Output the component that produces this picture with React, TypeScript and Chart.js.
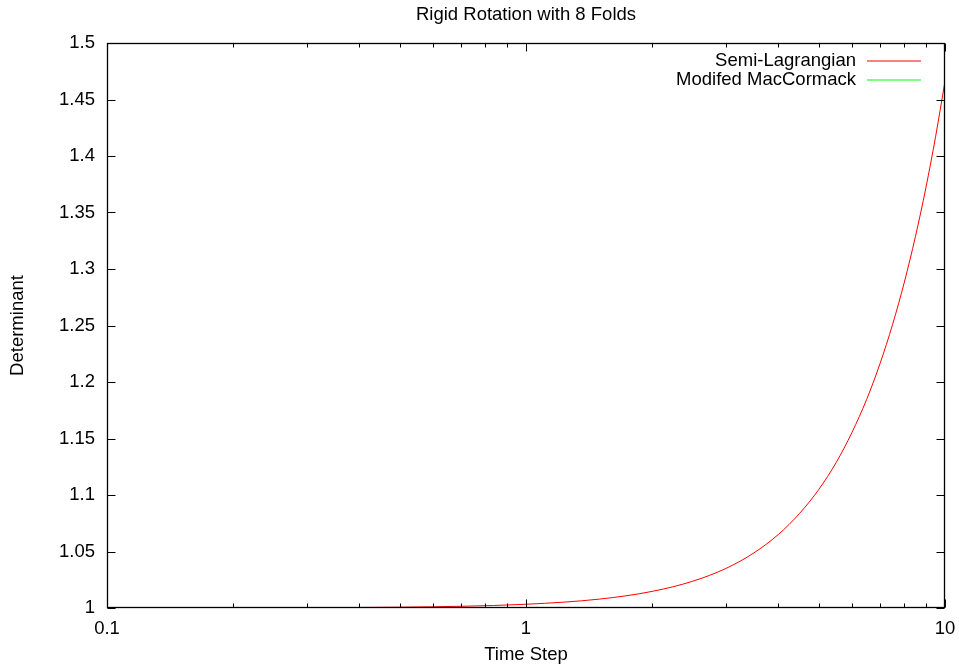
import React, { useEffect, useRef } from "react";
import { Chart, registerables } from "chart.js";

Chart.register(...registerables);

const chartTitle = "Rigid Rotation with 8 Folds";
const xTitle = "Time Step";
const yTitle = "Determinant";
const seriesLabels = ["Semi-Lagrangian", "Modifed MacCormack"];
const seriesColors = ["#ff0000", "#00ff00"];

const timeSteps = [0.1, 0.2, 0.3, 0.5, 0.7, 1, 1.5, 2, 2.5, 3, 3.5, 4, 4.5, 5, 5.5, 6, 6.5, 7, 7.5, 8, 8.5, 9, 9.5, 10];
const semiLagrangian = [
  1.00002, 1.0001, 1.00025, 1.00074, 1.00153, 1.0033, 1.0079, 1.0147, 1.0237, 1.035, 1.0488, 1.065,
  1.0838, 1.105, 1.1288, 1.1555, 1.1845, 1.2165, 1.2511, 1.2885, 1.3287, 1.3716, 1.4175, 1.4662,
];
const modifiedMacCormack = [1, 1, 1, 1, 1, 1, 1, 1, 1, 1, 1, 1, 1, 1, 1, 1, 1, 1, 1, 1, 1, 1, 1, 1];

const xMajorTicks = [0.1, 1, 10];
const xMinorTicks = [0.2, 0.3, 0.4, 0.5, 0.6, 0.7, 0.8, 0.9, 2, 3, 4, 5, 6, 7, 8, 9];
const yTicks = [1, 1.05, 1.1, 1.15, 1.2, 1.25, 1.3, 1.35, 1.4, 1.45, 1.5];

const FONT_FAMILY = "'Liberation Sans', Arial, Helvetica, sans-serif";
const FONT_SIZE = 18.5;

const framePlugin = {
  id: "gnuplotFrame",
  afterDatasetsDraw(chart: any) {
    const { ctx, chartArea } = chart;
    const { left, right, top, bottom } = chartArea;
    const xs = chart.scales.x;
    const ys = chart.scales.y;
    ctx.save();
    ctx.strokeStyle = "#000";
    ctx.lineWidth = 1;
    const L = Math.round(left) + 0.5;
    const R = Math.round(right) - 0.5;
    const T = Math.round(top) + 0.5;
    const B = Math.round(bottom) - 0.5;
    ctx.beginPath();
    yTicks.forEach((v) => {
      const py = Math.round(ys.getPixelForValue(v)) + 0.5;
      ctx.moveTo(L, py);
      ctx.lineTo(L + 8, py);
      ctx.moveTo(R, py);
      ctx.lineTo(R - 8, py);
    });
    xMajorTicks.forEach((v) => {
      const px = Math.round(xs.getPixelForValue(v)) + 0.5;
      ctx.moveTo(px, B);
      ctx.lineTo(px, B - 8);
      ctx.moveTo(px, T);
      ctx.lineTo(px, T + 8);
    });
    xMinorTicks.forEach((v) => {
      const px = Math.round(xs.getPixelForValue(v)) + 0.5;
      ctx.moveTo(px, B);
      ctx.lineTo(px, B - 4);
      ctx.moveTo(px, T);
      ctx.lineTo(px, T + 4);
    });
    ctx.stroke();
    ctx.lineWidth = 1.3;
    ctx.strokeRect(L, T, R - L, B - T);
    ctx.restore();
  },
};

const keyPlugin = {
  id: "gnuplotKey",
  afterDraw(chart: any) {
    const { ctx, chartArea } = chart;
    const { right, top } = chartArea;
    ctx.save();
    ctx.font = `${FONT_SIZE}px ${FONT_FAMILY}`;
    ctx.textAlign = "right";
    ctx.textBaseline = "middle";
    chart.data.datasets.forEach((ds: any, i: number) => {
      const y = top + 18 + i * 19;
      ctx.fillStyle = "#000000";
      ctx.fillText(String(ds.label), right - 89, y);
      ctx.strokeStyle = seriesColors[i];
      ctx.lineWidth = 1.2;
      ctx.beginPath();
      ctx.moveTo(right - 78, Math.round(y));
      ctx.lineTo(right - 24, Math.round(y));
      ctx.stroke();
    });
    ctx.restore();
  },
};

export default function App() {
  const canvasRef = useRef<HTMLCanvasElement | null>(null);

  useEffect(() => {
    const canvas = canvasRef.current;
    if (!canvas) return;
    const font = { family: FONT_FAMILY, size: FONT_SIZE, weight: "normal" as const };
    const seriesValues = [semiLagrangian, modifiedMacCormack];
    const chart = new Chart(canvas, {
      type: "line",
      data: {
        datasets: seriesValues.map((vals, i) => ({
          label: seriesLabels[i],
          data: timeSteps.map((t, j) => ({ x: t, y: vals[j] })),
          borderColor: seriesColors[i],
          backgroundColor: seriesColors[i],
          borderWidth: 1,
          pointRadius: 0,
          fill: false,
          cubicInterpolationMode: "monotone" as const,
        })),
      },
      options: {
        animation: false,
        responsive: false,
        maintainAspectRatio: false,
        events: [],
        layout: { padding: { left: 0, right: 14, top: 0, bottom: 0 } },
        plugins: {
          legend: { display: false },
          tooltip: { enabled: false },
          title: {
            display: true,
            fullSize: false,
            text: chartTitle,
            color: "#000",
            font,
            padding: { top: 3.4, bottom: 17.4 },
          },
        },
        scales: {
          x: {
            type: "logarithmic",
            min: 0.1,
            max: 10,
            afterBuildTicks: (s: any) => {
              s.ticks = xMajorTicks.map((v) => ({ value: v }));
            },
            afterFit: (s: any) => {
              s.height = 58;
              s.paddingLeft = 0;
              s.paddingRight = 0;
            },
            ticks: {
              color: "#000",
              font,
              padding: 10,
              maxRotation: 0,
              autoSkip: false,
              callback: (v: any) => String(v),
            },
            grid: { display: false, drawTicks: false },
            border: { display: false },
            title: { display: true, text: xTitle, color: "#000", font, padding: { top: 0, bottom: 0 } },
          },
          y: {
            type: "linear",
            min: 1,
            max: 1.5,
            afterBuildTicks: (s: any) => {
              s.ticks = yTicks.map((v) => ({ value: v }));
            },
            afterFit: (s: any) => {
              s.width = 107;
              s.paddingTop = 0;
              s.paddingBottom = 0;
            },
            ticks: {
              color: "#000",
              font,
              padding: 12,
              autoSkip: false,
              callback: (v: any) => String(Number(Number(v).toFixed(2))),
            },
            grid: { display: false, drawTicks: false },
            border: { display: false },
            title: { display: true, text: yTitle, color: "#000", font, padding: { top: 7, bottom: 0 } },
          },
        },
      },
      plugins: [framePlugin, keyPlugin],
    });
    return () => chart.destroy();
  }, []);

  return (
    <div style={{ position: "fixed", left: 0, top: 0, width: 959, height: 666, background: "#fff" }}>
      <canvas ref={canvasRef} width={959} height={666} style={{ display: "block" }} />
    </div>
  );
}
